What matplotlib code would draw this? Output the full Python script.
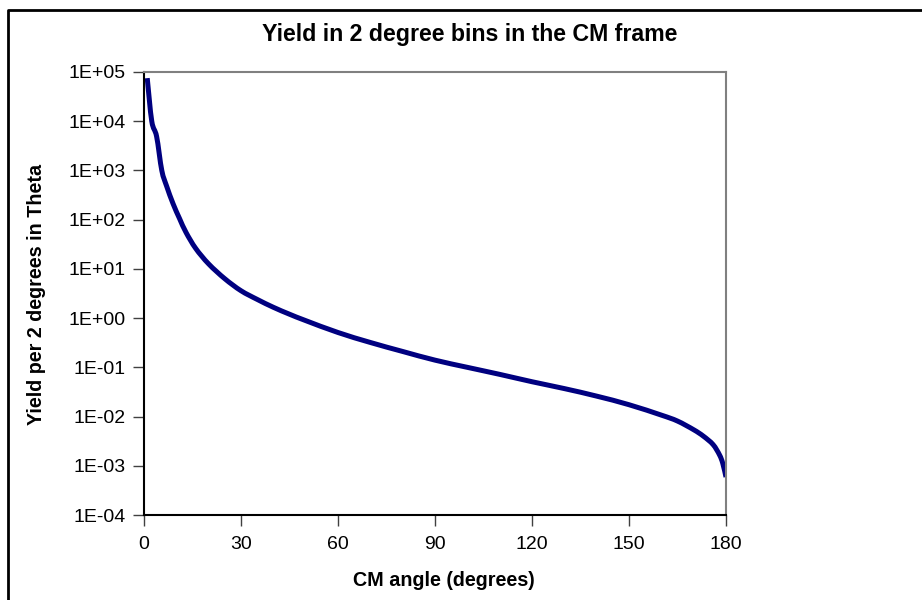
import matplotlib
matplotlib.use("Agg")
import matplotlib.pyplot as plt
import numpy as np
from matplotlib.lines import Line2D
from matplotlib.path import Path
from matplotlib.patches import PathPatch

plt.rcParams['font.family'] = ['Liberation Sans', 'DejaVu Sans']

# yield per 2-degree bin vs centre-of-mass angle
angle = [1, 2.4, 3.9, 5.5, 7, 9, 11, 13, 16, 20, 25, 30, 35, 40, 45, 50,
         60, 70, 80, 90, 100, 110, 120, 130, 140, 150, 160, 165, 170, 173,
         176, 178, 179, 180]
yield_ = [7.5e4, 1.0e4, 4.9e3, 1.0e3, 480, 210, 105, 55, 26, 12.6, 6.3, 3.6,
          2.4, 1.66, 1.20, 0.89, 0.51, 0.32, 0.21, 0.14, 0.100, 0.072,
          0.051, 0.037, 0.026, 0.0174, 0.0107, 0.0081, 0.0054, 0.0040,
          0.0027, 0.00166, 0.00112, 0.00059]

x_ticks = [0, 30, 60, 90, 120, 150, 180]
y_ticks = [1e-4, 1e-3, 1e-2, 1e-1, 1e0, 1e1, 1e2, 1e3, 1e4, 1e5]
y_labels = ["1E-04", "1E-03", "1E-02", "1E-01", "1E+00",
            "1E+01", "1E+02", "1E+03", "1E+04", "1E+05"]


def smoothed_path(xs, ys):
    """Catmull-Rom style smoothed line, built in (x, log y) space."""
    lx = np.asarray(xs, float)
    ly = np.log10(np.asarray(ys, float))
    n = len(lx)
    verts = [(lx[0], ly[0])]
    codes = [Path.MOVETO]
    for i in range(n - 1):
        a = max(i - 1, 0)
        b = min(i + 2, n - 1)
        c1 = (lx[i] + (lx[i + 1] - lx[a]) / 6, ly[i] + (ly[i + 1] - ly[a]) / 6)
        c2 = (lx[i + 1] - (lx[b] - lx[i]) / 6, ly[i + 1] - (ly[b] - ly[i]) / 6)
        verts += [c1, c2, (lx[i + 1], ly[i + 1])]
        codes += [Path.CURVE4] * 3
    v = np.array(verts)
    v[:, 1] = 10 ** v[:, 1]
    return Path(v, codes)


fig = plt.figure(figsize=(9.22, 6.0), dpi=100)
ax = fig.add_axes([144 / 922, 1 - 515 / 600, 582 / 922, 443 / 600])

ax.set_yscale("log")
ax.add_patch(PathPatch(smoothed_path(angle, yield_), fill=False,
                       edgecolor="#000080", lw=3.6, capstyle="butt",
                       joinstyle="round"))

ax.set_xlim(0, 180)
ax.set_ylim(1e-4, 1e5)
ax.set_xticks(x_ticks)
ax.set_xticklabels([str(t) for t in x_ticks])
ax.set_yticks(y_ticks)
ax.set_yticklabels(y_labels)
ax.minorticks_off()
ax.tick_params(direction="out", length=8, width=1, color="#404040",
               labelsize=14)
ax.tick_params(axis="x", pad=7)
ax.tick_params(axis="y", pad=5)

ax.spines["left"].set_color("black")
ax.spines["bottom"].set_color("black")
ax.spines["top"].set_color("#808080")
ax.spines["right"].set_color("#808080")
for s in ax.spines.values():
    s.set_linewidth(1.5)

fig.text(444 / 922, 1 - 581 / 600, "CM angle (degrees)",
         ha="center", va="center", fontsize=14.2, fontweight="bold")
fig.text(36 / 922, 1 - 294 / 600, "Yield per 2 degrees in Theta",
         ha="center", va="center", rotation=90, fontsize=14.2,
         fontweight="bold")
fig.text(470 / 922, 1 - 34 / 600, "Yield in 2 degree bins in the CM frame",
         ha="center", va="center", fontsize=16.7, fontweight="bold")

# chart border (top and left edges only)
fig.add_artist(Line2D([8 / 922, 8 / 922, 1], [0, 1 - 10 / 600, 1 - 10 / 600],
                      transform=fig.transFigure, color="black", lw=2))

fig.savefig("out.png", dpi=100)
